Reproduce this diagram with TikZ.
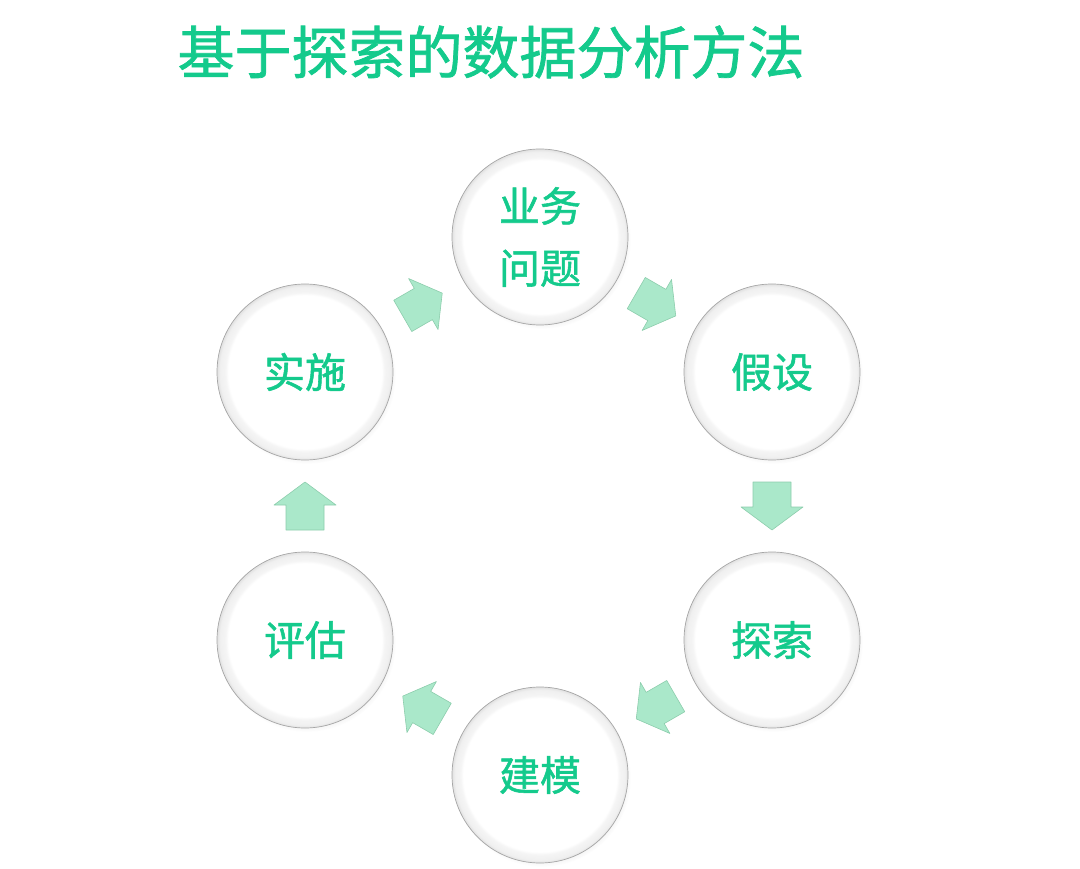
\documentclass[tikz,border=0pt]{standalone}
\usepackage{fontspec}
\newfontfamily\cjk[FakeBold=1.3]{Noto Sans CJK SC}
\usetikzlibrary{calc,shadows}
\definecolor{titlegreen}{RGB}{20,202,140}
\definecolor{arrowfill}{RGB}{170,232,202}
\definecolor{arrowedge}{RGB}{140,205,172}
\pgfdeclareradialshading{ballrim}{\pgfpoint{0bp}{0bp}}{color(0bp)=(white); color(21.8bp)=(white); color(22.6bp)=(black!4); color(24.2bp)=(black!6); color(25bp)=(black!12); color(50bp)=(black!12)}
\tikzset{
  ball/.style={circle, minimum size=176pt, inner sep=0pt, shading=ballrim,
    draw=black!35, line width=0.7pt, text=titlegreen, align=center,
    font=\cjk\fontsize{41}{62}\selectfont,
    circular drop shadow={shadow xshift=2pt, shadow yshift=-3pt, opacity=0.2, shadow scale=1.01}},
  blockarrow/.pic={
    \draw[fill=arrowfill, draw=arrowedge, line width=0.6pt, line join=round]
      (-24,-19) -- (1,-19) -- (1,-31) -- (24,0) -- (1,31) -- (1,19) -- (-24,19) -- cycle;
  }
}
\begin{document}
\begin{tikzpicture}[x=1pt, y=-1pt]
\useasboundingbox (0,0) rectangle (1080,869);
\node[text=titlegreen, font=\cjk\fontsize{57}{66}\selectfont] (title) at (491,52) {基于探索的数据分析方法};
\node[ball] (yewu) at (540,237) {业务\\问题};
\node[ball] (jiashe) at (772,372) {假设};
\node[ball] (tansuo) at (772,640) {探索};
\node[ball] (jianmo) at (540,775) {建模};
\node[ball] (pinggu) at (305,640) {评估};
\node[ball] (shishi) at (305,372) {实施};
\pic[rotate=30, scale=0.95] at ($(shishi)!0.5!(yewu)$) {blockarrow};
\pic[rotate=-30, scale=0.95] at ($(yewu)!0.5!(jiashe)$) {blockarrow};
\pic[rotate=-90] at ($(jiashe)!0.5!(tansuo)$) {blockarrow};
\pic[rotate=210, scale=0.95] at ($(tansuo)!0.5!(jianmo)$) {blockarrow};
\pic[rotate=150, scale=0.95] at ($(jianmo)!0.5!(pinggu)$) {blockarrow};
\pic[rotate=90] at ($(pinggu)!0.5!(shishi)$) {blockarrow};
\end{tikzpicture}
\end{document}
